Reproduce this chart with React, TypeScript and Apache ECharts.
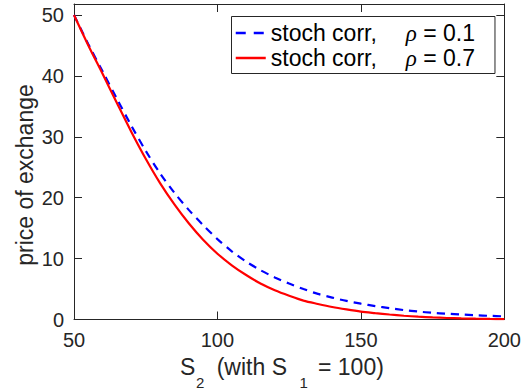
import React, { useEffect, useRef } from "react";
import * as echarts from "echarts";

const s2Values = [50, 55, 60, 65, 70, 75, 80, 85, 90, 95, 100, 105, 110, 115, 120, 125, 130, 135, 140, 145, 150, 155, 160, 165, 170, 175, 180, 185, 190, 195, 200];
const priceRho01 = [50, 45.2, 40.7, 36.2, 31.8, 27.7, 24.0, 20.8, 18.0, 15.5, 13.2, 11.2, 9.5, 8.1, 6.9, 5.9, 5.0, 4.2, 3.6, 3.05, 2.6, 2.2, 1.85, 1.55, 1.3, 1.1, 0.95, 0.82, 0.7, 0.6, 0.52];
const priceRho07 = [50, 45.0, 40.3, 35.5, 30.8, 26.4, 22.4, 18.9, 15.8, 13.1, 10.8, 8.9, 7.3, 5.9, 4.8, 3.9, 3.1, 2.55, 2.05, 1.65, 1.3, 1.05, 0.82, 0.62, 0.46, 0.34, 0.25, 0.18, 0.13, 0.09, 0.06];
const seriesNames = ["rho01", "rho07"];
const legendRho = { rho01: "0.1", rho07: "0.7" } as Record<string, string>;

const AX = "#262626";
const FONT = "'Liberation Sans', Arial, Helvetica, sans-serif";

export default function App() {
  const ref = useRef<HTMLDivElement>(null);
  useEffect(() => {
    if (!ref.current) return;
    const chart = echarts.init(ref.current, null, { renderer: "svg" });
    const pairs = (ys: number[]) => s2Values.map((x, i) => [x, ys[i]]);
    const tickCommon = { show: true, inside: true, length: 8, lineStyle: { color: AX, width: 1 } };
    const mainT = (text: string, x: number) => ({
      type: "text", x, y: 367,
      style: { text, font: `23px ${FONT}`, fill: AX, align: "left", verticalAlign: "middle" },
    });
    const subT = (text: string, x: number) => ({
      type: "text", x, y: 382,
      style: { text, font: `15px ${FONT}`, fill: AX, align: "left", verticalAlign: "middle" },
    });
    chart.setOption({
      animation: false,
      backgroundColor: "#ffffff",
      grid: { left: 74, top: 4, width: 434, height: 315.5, containLabel: false },
      xAxis: [
        {
          type: "value", min: 50, max: 200, interval: 50, position: "bottom",
          axisLine: { show: true, lineStyle: { color: AX, width: 1 } },
          axisTick: tickCommon,
          splitLine: { show: false },
          axisLabel: { color: AX, fontSize: 20, fontFamily: FONT, margin: 10 },
        },
        {
          type: "value", min: 50, max: 200, interval: 50, position: "top",
          axisLine: { show: true, onZero: false, lineStyle: { color: AX, width: 1 } },
          axisTick: tickCommon,
          splitLine: { show: false },
          axisLabel: { show: false },
        },
      ],
      yAxis: [
        {
          type: "value", min: 0, max: 51.8, interval: 10, position: "left",
          axisLine: { show: true, lineStyle: { color: AX, width: 1 } },
          axisTick: tickCommon,
          splitLine: { show: false },
          axisLabel: { color: AX, fontSize: 20, fontFamily: FONT, margin: 10, showMaxLabel: false },
        },
        {
          type: "value", min: 0, max: 51.8, interval: 10, position: "right",
          axisLine: { show: true, onZero: false, lineStyle: { color: AX, width: 1 } },
          axisTick: tickCommon,
          splitLine: { show: false },
          axisLabel: { show: false },
        },
      ],
      legend: {
        orient: "vertical",
        left: 231.5,
        top: 16.5,
        padding: [5, 20, 4, 3],
        itemGap: 2,
        itemWidth: 30,
        itemHeight: 14,
        borderColor: AX,
        borderWidth: 1,
        backgroundColor: "#ffffff",
        itemStyle: { opacity: 0 },
        data: [
          { name: seriesNames[0], lineStyle: { type: [10, 8], width: 2.5 } },
          { name: seriesNames[1], lineStyle: { width: 2.5 } },
        ],
        formatter: (name: string) => `{a|stoch corr,}{r|ρ}{b| = ${legendRho[name]}}`,
        textStyle: {
          color: "#000000",
          fontSize: 23,
          fontFamily: FONT,
          rich: {
            a: { fontSize: 23, fontFamily: FONT, color: "#000", width: 135, lineHeight: 26 },
            r: { fontSize: 23, fontFamily: "'Liberation Serif', 'DejaVu Serif', serif", fontStyle: "italic", color: "#000", lineHeight: 26 },
            b: { fontSize: 23, fontFamily: FONT, color: "#000", lineHeight: 26 },
          },
        },
      },
      graphic: [
        {
          type: "text", x: 25, y: 175, rotation: Math.PI / 2,
          style: { text: "price of exchange", font: `23px ${FONT}`, fill: AX, align: "center", verticalAlign: "middle" },
        },
        mainT("S", 180),
        subT("2", 196),
        mainT("(with S", 216.7),
        subT("1", 299.5),
        mainT("= 100)", 318),
      ],
      series: [
        {
          name: "rho01", type: "line", data: pairs(priceRho01), symbol: "none", smooth: 0.3,
          lineStyle: { color: "#0000ff", width: 2.2, type: [8, 6] }, itemStyle: { color: "#0000ff" },
          xAxisIndex: 0, yAxisIndex: 0,
        },
        {
          name: "rho07", type: "line", data: pairs(priceRho07), symbol: "none", smooth: 0.3,
          lineStyle: { color: "#ff0000", width: 2.2 }, itemStyle: { color: "#ff0000" },
          xAxisIndex: 0, yAxisIndex: 0,
        },
      ],
    });
    return () => chart.dispose();
  }, []);
  return (
    <div style={{ position: "fixed", left: 0, top: 0, width: 524, height: 392, background: "#fff" }}>
      <div ref={ref} style={{ width: 524, height: 392 }} />
    </div>
  );
}
